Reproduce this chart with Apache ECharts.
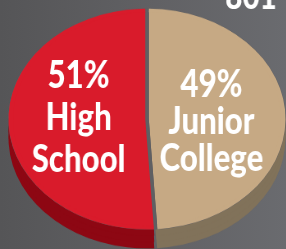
<!DOCTYPE html>
<html>
<head>
<meta charset="utf-8">
<script src="https://cdn.jsdelivr.net/npm/echarts@6/dist/echarts.min.js"></script>
<style>
html, body {
  margin: 0; padding: 0; width: 286px; height: 249px; overflow: hidden;
  background: linear-gradient(to right, #555557 0%, #606063 50%, #6a6b6f 100%);
}
#pie {
  position: absolute; left: 0; top: 0; width: 286px; height: 313px;
  transform-origin: 0 0; transform: scaleY(0.797);
}
/* label layer is squeezed sideways to get a condensed face */
#labels {
  position: absolute; left: 0; top: 0; width: 349px; height: 249px;
  transform-origin: 0 0; transform: scaleX(0.82);
}
</style>
</head>
<body>
<div id="pie"></div>
<div id="labels"></div>
<script>
// data
var categories = ['Junior College', 'High School'];
var shares = [49, 51];
var cornerText = '801';

// colours
var topColors = ['#c6a984', '#d91b2b'];
var sideColors = ['#81725a', '#8d0713'];
var gapColor = '#5f5f62';
var fontFam = 'Lato, "Liberation Sans", sans-serif';

// pie sits in a div squashed with css, so it reads as an ellipse
var cx = 147, cy = 149.3;
var rimDepth = [23.8, 16, 8];
var sx = 0.82;
var lineGap = [37, 42];
var labelShift = [[-2, 5.5], [-2, -3.5]];

function pieData(colors) {
  return categories.map(function (name, i) {
    return { name: name, value: shares[i], itemStyle: { color: colors[i] } };
  });
}

var base = {
  type: 'pie',
  startAngle: 90,
  silent: true,
  animation: false,
  label: { show: false },
  labelLine: { show: false },
  emphasis: { disabled: true }
};

var series = [];
rimDepth.forEach(function (d) {
  series.push(Object.assign({}, base, {
    center: [cx, cy + d],
    radius: 138.5,
    padAngle: 1.2,
    data: pieData(sideColors)
  }));
});
// top face, border gives the straight gap between slices
series.push(Object.assign({}, base, {
  center: [cx, cy],
  radius: 137,
  itemStyle: { borderColor: gapColor, borderWidth: 3.5 },
  data: pieData(topColors)
}));
// outer ring hides the border along the rim edge
series.push(Object.assign({}, base, {
  center: [cx, cy],
  radius: [134, 138.5],
  padAngle: 1.5,
  data: pieData(topColors)
}));

var pieChart = echarts.init(document.getElementById('pie'));
pieChart.setOption({ animation: false, series: series });

var labelChart = echarts.init(document.getElementById('labels'));
labelChart.setOption({
  animation: false,
  graphic: [{
    type: 'text',
    x: 251 / sx, y: -3,
    style: {
      text: cornerText,
      fill: '#fff',
      font: '900 36px ' + fontFam,
      textAlign: 'center',
      textVerticalAlign: 'middle'
    }
  }],
  series: [Object.assign({}, base, {
    center: [cx / sx, 119],
    radius: 128 / sx,
    itemStyle: { color: 'rgba(0,0,0,0)' },
    data: categories.map(function (name, i) {
      return { name: name, value: shares[i], label: { lineHeight: lineGap[i] } };
    }),
    label: {
      show: true,
      position: 'inside',
      color: '#fff',
      fontSize: 38,
      fontWeight: 900,
      fontFamily: fontFam,
      formatter: function (p) {
        return p.value + '%\n' + p.name.replace(' ', '\n');
      }
    },
    labelLayout: function (p) {
      var s = labelShift[p.dataIndex];
      return { dx: s[0] / sx, dy: s[1] };
    }
  })]
});
</script>
</body>
</html>
